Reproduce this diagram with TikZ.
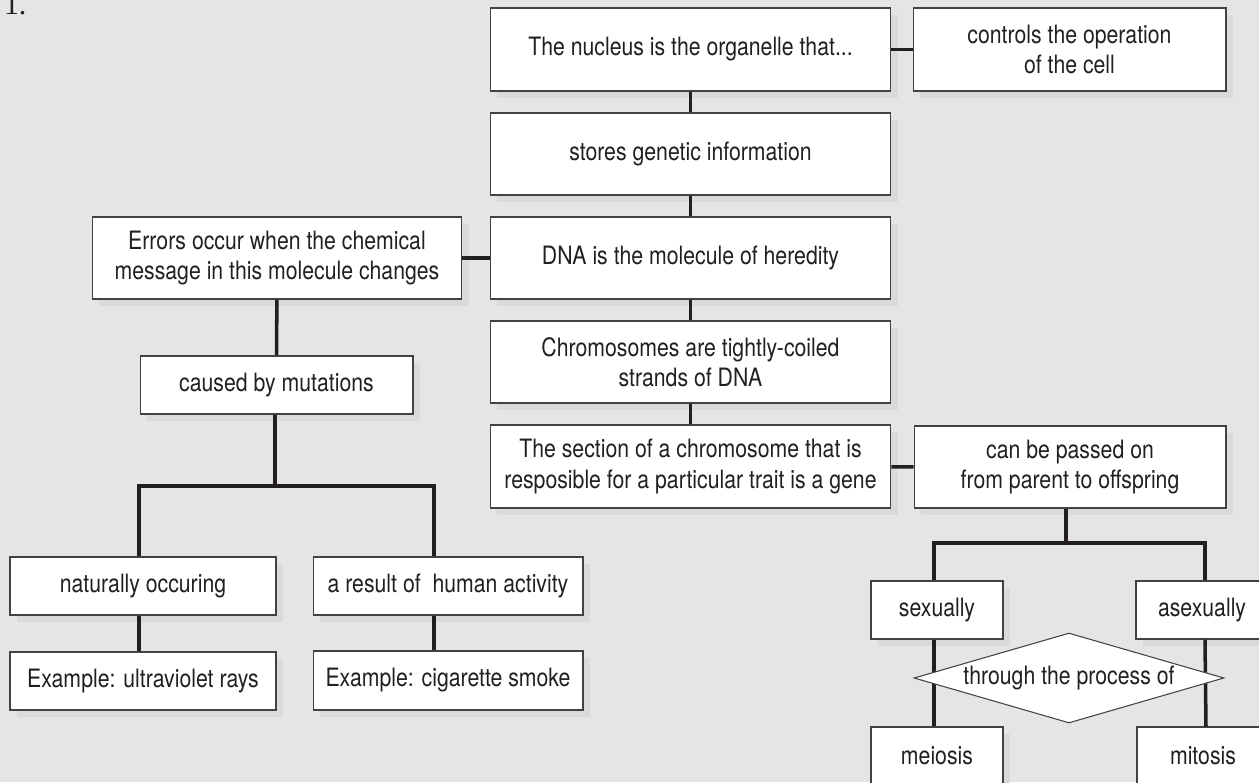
\documentclass[tikz,border=0pt]{standalone}
\usepackage{fontspec}
\setmainfont{TeX Gyre Heros}[FakeStretch=0.84]
\newfontfamily\numberfont{Liberation Serif}
\usetikzlibrary{shapes.geometric,shadows}
\definecolor{paper}{HTML}{E5E5E5}
\definecolor{shade}{HTML}{DADADA}
\definecolor{ink}{HTML}{231F20}
\tikzset{
	box/.style={shape=rectangle,draw=ink!85,line width=0.6pt,fill=white,text=ink,align=center,inner sep=0pt,
		font=\fontsize{14.4}{17.3}\selectfont,
		drop shadow={shadow xshift=0.14cm,shadow yshift=-0.14cm,fill=shade,opacity=1}},
	link/.style={draw=ink,line width=2pt},
}

\begin{document}
\begin{tikzpicture}[x=0.02cm,y=-0.02cm]
	
	\useasboundingbox (0,0) rectangle (1259,782);
	\fill[paper] (0,0) rectangle (1259,782);
	
	\node[anchor=base west,inner sep=0pt,text=ink,font=\numberfont\fontsize{17}{20}\selectfont] (num) at (3.7,14) {1.};
	
	\node[box,minimum width=8.02cm,minimum height=1.66cm] (nucleus)  at (690.5, 49.5) {The nucleus is the organelle that...};
	\node[box,minimum width=6.26cm,minimum height=1.66cm] (controls) at (1069.5, 49.5) {controls the operation\\of the cell};
	\node[box,minimum width=8.02cm,minimum height=1.64cm] (stores)   at (690.5, 154)  {stores genetic information};
	\node[box,minimum width=8.02cm,minimum height=1.64cm] (dna)      at (690.5, 258)  {DNA is the molecule of heredity};
	\node[box,minimum width=8.02cm,minimum height=1.64cm] (chrom)    at (690.5, 362)  {Chromosomes are tightly-coiled\\strands of DNA};
	\node[box,minimum width=8.02cm,minimum height=1.66cm] (gene)     at (690.5, 466.5) {The section of a chromosome that is\\resposible for a particular trait is a gene};
	\node[box,minimum width=6.24cm,minimum height=1.64cm] (passed)   at (1070, 467)   {can be passed on\\from parent to offspring};
	\node[box,minimum width=7.40cm,minimum height=1.64cm] (errors)   at (277, 258)    {Errors occur when the chemical\\message in this molecule changes};
	\node[box,minimum width=5.46cm,minimum height=1.16cm] (mutation) at (276.5, 385)  {caused by mutations};
	\node[box,minimum width=5.32cm,minimum height=1.16cm] (natural)  at (143, 586)    {naturally occuring};
	\node[box,minimum width=5.32cm,minimum height=1.16cm] (uv)       at (143, 681)    {Example: ultraviolet rays};
	\node[box,minimum width=5.40cm,minimum height=1.16cm] (human)    at (448, 586)    {a result of~ human activity};
	\node[box,minimum width=5.40cm,minimum height=1.18cm] (smoke)    at (448, 680.5)  {Example: cigarette smoke};
	\node[box,minimum width=2.64cm,minimum height=1.16cm] (sex)      at (937, 610)    {sexually};
	\node[box,minimum width=2.64cm,minimum height=1.16cm] (asex)     at (1202, 610)   {asexually};
	\node[box,minimum width=2.64cm,minimum height=1.16cm] (meiosis)  at (937, 756)    {meiosis};
	\node[box,minimum width=2.64cm,minimum height=1.16cm] (mitosis)  at (1203, 756)   {mitosis};
	
	\path[link] (nucleus) edge (controls)
		(nucleus) edge (stores)
		(stores) edge (dna)
		(dna) edge (chrom)
		(chrom) edge (gene)
		(errors) edge (dna)
		(gene) edge (passed)
		(errors) edge (mutation);
	
	\coordinate (lbar) at (275, 486);
	\draw[link] (lbar |- mutation.south) -- (lbar);
	\draw[link] ([xshift=-0.08cm]natural.north) |- ([xshift=-0.28cm]human.north |- lbar) -- ([xshift=-0.28cm]human.north);
	\draw[link] ([xshift=-0.08cm]natural.south) -- ([xshift=-0.08cm]uv.north);
	\draw[link] ([xshift=-0.28cm]human.south) -- ([xshift=-0.28cm]smoke.north);
	
	\coordinate (rbar) at (1066, 543);
	\draw[link] (rbar |- passed.south) -- (rbar);
	\draw[link] ([xshift=-0.06cm]sex.north) |- ([xshift=0.06cm]asex.north |- rbar) -- ([xshift=0.06cm]asex.north);
	\draw[link] ([xshift=-0.06cm]sex.south) -- ([xshift=-0.06cm]meiosis.north);
	\draw[link] ([xshift=0.06cm]asex.south) -- ([xshift=0.06cm]mitosis.north);
	
	\node[shape=diamond,draw=ink!85,line width=0.6pt,fill=white,text=ink,inner sep=0pt,aspect=3.44,
		minimum width=6.2cm,minimum height=1.8cm,font=\fontsize{14.4}{17.3}\selectfont] (process) at (1069, 678) {through the process of};
	
\end{tikzpicture}
\end{document}
